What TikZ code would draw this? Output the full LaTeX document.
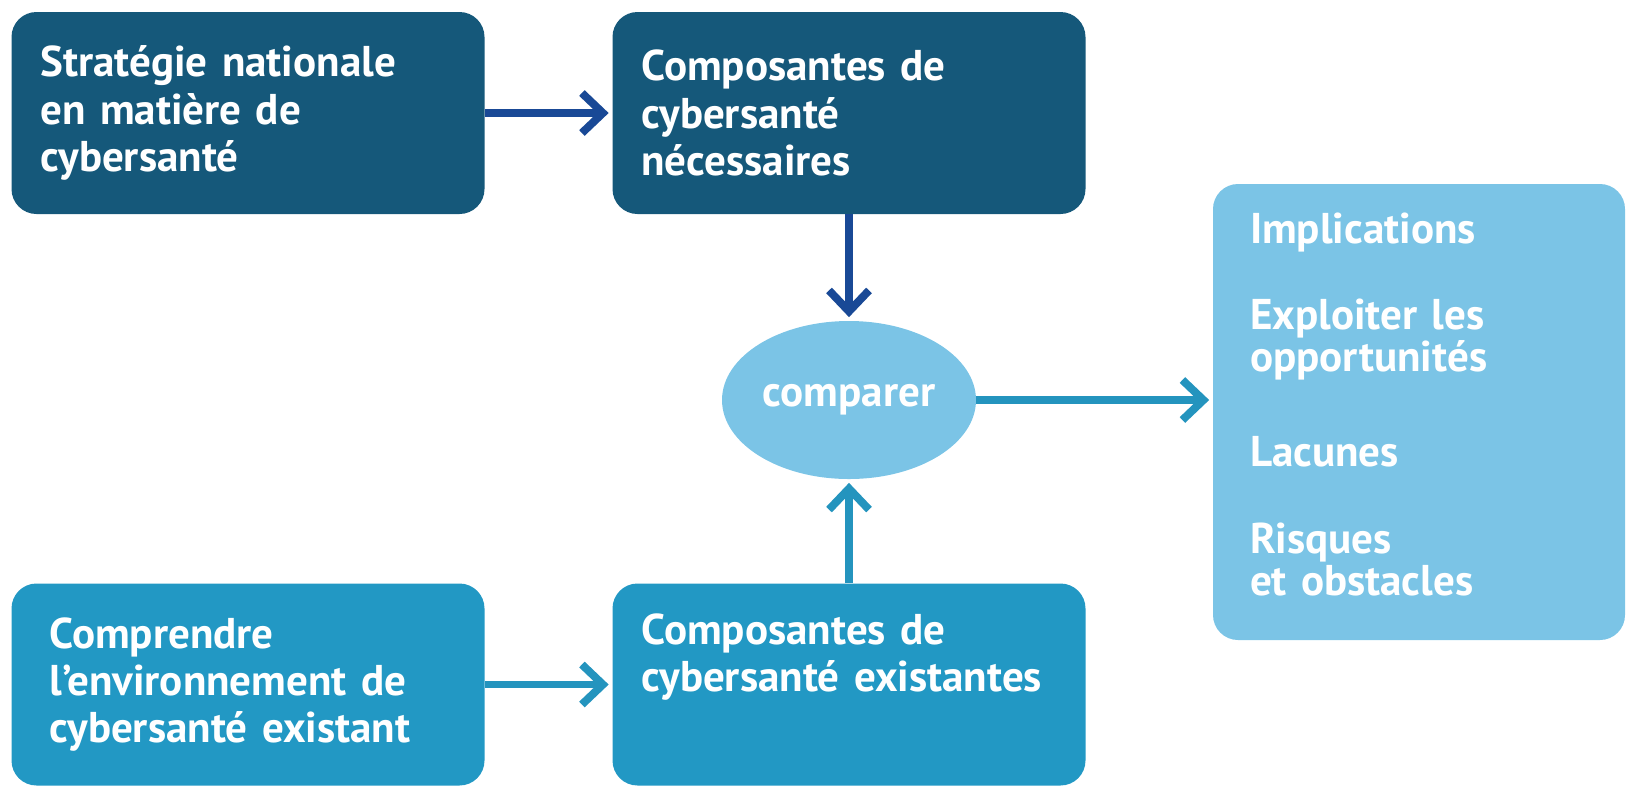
\documentclass[tikz,border=0pt]{standalone}
\usepackage{fontspec}
\setmainfont{PT Sans}
\usetikzlibrary{arrows.meta,shapes.geometric}

\definecolor{darkbox}{RGB}{21,88,122}
\definecolor{midbox}{RGB}{34,152,196}
\definecolor{lightbox}{RGB}{123,196,230}
\definecolor{darkarrow}{RGB}{25,73,150}
\definecolor{midarrow}{RGB}{36,148,190}

\newcommand{\boxfont}[1]{\fontsize{24.5}{#1}\selectfont\bfseries}

\tikzset{
    box/.style={rounded corners=0.5cm, text=white, align=left,
        font=\boxfont{26.8},
        text width=8.3cm, inner xsep=0.58cm, minimum height=4.04cm},
    flow/.style={line width=4.5pt, shorten >=2pt,
        -{Straight Barb[length=0.42cm, width=0.8cm, line width=4.5pt]}},
}

\begin{document}
\begin{tikzpicture}
    \useasboundingbox (0,0) rectangle (32.56,-15.72);

    % upper row
    \node[box, fill=darkbox] (strat) at (4.96,-2.26) {Stratégie nationale\\en matière de\\cybersanté};
    \node[box, fill=darkbox] (need) at (16.98,-2.26) {Composantes de\\cybersanté\\nécessaires};

    % lower row
    \node[box, fill=midbox, inner xsep=0.76cm, text width=7.94cm] (env) at (4.96,-13.69) {Comprendre\\l’environnement de\\cybersanté existant};
    \node[box, fill=midbox] (exist) at (16.98,-13.69) {Composantes de\\cybersanté existantes\\[0.32cm]~};

    \node[ellipse, fill=lightbox, text=white, inner sep=0pt, minimum width=5.08cm, minimum height=3.16cm,
        font=\boxfont{28}] (cmp) at (16.98,-8.0) {comparer};

    \node[box, fill=lightbox, font=\boxfont{23.8},
        text width=6.76cm, inner xsep=0.74cm, minimum height=9.12cm] (res) at (28.38,-8.24)
        {Implications\\[0.9cm]Exploiter les\\opportunités\\[1.05cm]Lacunes\\[0.92cm]Risques\\et obstacles\\[-0.52cm]\mbox{}};

    \draw[flow, darkarrow] (strat) -- (need);
    \draw[flow, darkarrow] (need) -- (cmp);
    \draw[flow, midarrow] (env) -- (exist);
    \draw[flow, midarrow] (exist) -- (cmp);
    \draw[flow, midarrow] (cmp) -- (cmp -| res.west);
\end{tikzpicture}
\end{document}
